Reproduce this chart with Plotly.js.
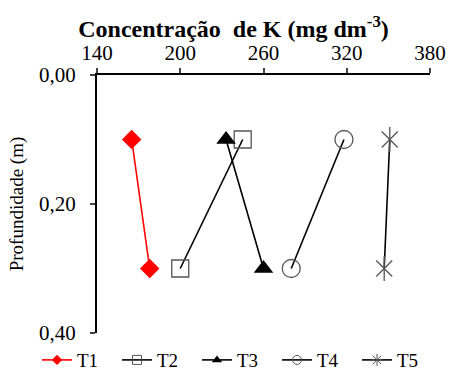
<!DOCTYPE html>
<html><head><meta charset="utf-8">
<script src="https://cdn.plot.ly/plotly-3.0.1.min.js"></script>
<style>body{margin:0;background:#fff}#c{width:449px;height:379px}</style>
</head><body><div id="c"></div>
<script>
const depth = [0.10, 0.30];
const T1 = [165, 178];
const T2 = [245, 200];
const T3 = [233, 260];
const T4 = [318, 280];
const T5 = [351, 347];
const names = ['T1','T2','T3','T4','T5'];
const xTicks = [140, 200, 260, 320, 380];
const yTicks = [0, 0.2, 0.4];

const F = 'Times New Roman';
const blk = 'black';
const gray = '#555';
const styles = [
  {line:{color:'#ff0000', width:1.6}, marker:{symbol:'diamond', size:15, color:'#ff0000'}, lm:{symbol:'diamond', size:8, color:'#ff0000'}},
  {line:{color:blk, width:1.6}, marker:{symbol:'square-open', size:17, color:gray, line:{width:1.3}}, lm:{symbol:'square-open', size:9, color:gray, line:{width:1}}},
  {line:{color:blk, width:1.6}, marker:{symbol:'triangle-up', size:17, color:blk}, lm:{symbol:'triangle-up', size:9, color:blk}},
  {line:{color:blk, width:1.6}, marker:{symbol:'circle-open', size:18, color:gray, line:{width:1.3}}, lm:{symbol:'circle-open', size:9, color:gray, line:{width:1}}},
  {line:{color:blk, width:1.6}, marker:{symbol:'x-thin-open', size:16, color:gray, line:{width:1.3}}, lm:{symbol:'asterisk-open', size:10, color:gray, line:{width:1}}}
];
const series = [T1, T2, T3, T4, T5];
const legendIds = ['legend','legend2','legend3','legend4','legend5'];
const traces = [];
series.forEach((s, i) => {
  traces.push({x:s, y:depth, name:names[i], mode:'lines+markers', showlegend:false,
    line:styles[i].line, marker:styles[i].marker});
});
traces.push({x:T5, y:depth, showlegend:false, mode:'markers', hoverinfo:'skip',
  marker:{symbol:'line-ns-open', size:18, color:gray, line:{width:1.3}}});
series.forEach((s, i) => {
  traces.push({x:[null], y:[null], name:names[i], mode:'lines+markers', legend:legendIds[i],
    line:styles[i].line, marker:styles[i].lm});
});
const layout = {
  width:449, height:379,
  margin:{l:97, r:19, t:75, b:46},
  paper_bgcolor:'white', plot_bgcolor:'white',
  separators:', ',
  font:{family:F, size:16, color:'black'},
  title:{text:'<b>Concentração  de K (mg dm<sup>-3</sup>)</b>', font:{family:F, size:24, color:'black'},
    xref:'paper', x:0.41, xanchor:'center', yref:'container', y:0.925, yanchor:'middle'},
  xaxis:{side:'top', range:[140,380], tickvals:xTicks, ticks:'outside', ticklen:5, tickwidth:2,
    showline:true, linewidth:2, linecolor:'black', showgrid:false, zeroline:false,
    tickfont:{family:F, size:21, color:'black'}},
  yaxis:{range:[0.4,0], tickvals:yTicks, tickformat:'.2f', ticks:'outside', ticklen:5, tickwidth:2,
    ticklabelstandoff:10,
    showline:true, linewidth:2, linecolor:'black', showgrid:false, zeroline:false,
    tickfont:{family:F, size:21, color:'black'},
    title:{text:'Profundidade (m)', font:{family:F, size:19}, standoff:10}},
  showlegend:true
};
const legX = [37, 117, 197, 277, 357];
legendIds.forEach((id, i) => {
  layout[id] = {orientation:'h', x:legX[i]/449, xref:'container', xanchor:'left',
    yref:'container', y:0.05, yanchor:'middle',
    font:{family:F, size:19, color:'black'}, bgcolor:'rgba(0,0,0,0)'};
});
Plotly.newPlot('c', traces, layout, {displayModeBar:false, staticPlot:true});
</script></body></html>
